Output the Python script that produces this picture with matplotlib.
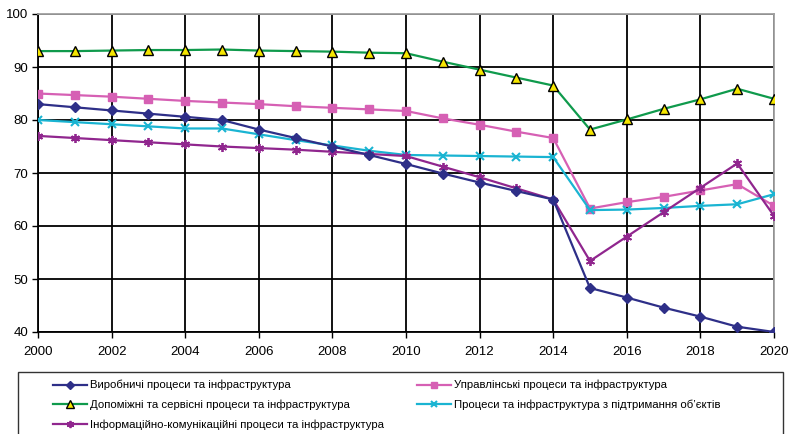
import matplotlib
matplotlib.use("Agg")
import matplotlib.pyplot as plt
from matplotlib.patches import Rectangle

plt.rcParams['font.family'] = ['Liberation Sans', 'DejaVu Sans']

years = list(range(2000, 2021))

vyrobnychi = [83.0, 82.4, 81.8, 81.2, 80.6, 80.0, 78.2, 76.6, 75.0, 73.4, 71.7,
              69.9, 68.2, 66.6, 65.0, 48.3, 46.5, 44.6, 42.9, 41.0, 40.0]
upravlinski = [85.0, 84.7, 84.4, 84.0, 83.6, 83.3, 83.0, 82.6, 82.3, 82.0, 81.7,
               80.3, 79.1, 77.8, 76.6, 63.3, 64.5, 65.5, 66.7, 67.9, 63.8]
dopomizhni = [93.0, 93.0, 93.1, 93.2, 93.2, 93.3, 93.1, 93.0, 92.9, 92.7, 92.6,
              91.0, 89.5, 88.0, 86.5, 78.2, 80.1, 82.1, 83.9, 85.9, 84.0]
pidtrymannia = [80.0, 79.6, 79.2, 78.8, 78.4, 78.4, 77.3, 76.2, 75.2, 74.2, 73.4,
                73.3, 73.2, 73.1, 73.0, 63.0, 63.1, 63.4, 63.8, 64.1, 66.0]
informatsiini = [77.0, 76.6, 76.2, 75.8, 75.4, 75.0, 74.7, 74.4, 74.0, 73.6, 73.2,
                 71.2, 69.2, 67.1, 65.0, 53.4, 58.0, 62.6, 67.2, 71.8, 61.9]

labels = [
    "Виробничі процеси та інфраструктура",
    "Управлінські процеси та інфраструктура",
    "Допоміжні та сервісні процеси та інфраструктура",
    "Процеси та інфраструктура з підтримання об’єктів",
    "Інформаційно-комунікаційні процеси та інфраструктура",
]

x_ticks = list(range(2000, 2021, 2))
y_ticks = list(range(40, 101, 10))

W, H = 791, 434
fig = plt.figure(figsize=(W / 100, H / 100), dpi=100)
ax = fig.add_axes([38 / W, 1 - 332 / H, (774 - 38) / W, (332 - 14) / H])

lw = 1.6
h1, = ax.plot(years, vyrobnychi, color='#2e2f88', lw=lw, marker='D', ms=4.8,
              mfc='#2e2f88', mec='#2e2f88', zorder=4)
h2, = ax.plot(years, upravlinski, color='#d660b4', lw=lw, marker='s', ms=6,
              mfc='#d660b4', mec='#d660b4', zorder=3)
h3, = ax.plot(years, dopomizhni, color='#0f9a4c', lw=lw, marker='^', ms=6.5,
              mfc='#f5e600', mec='black', mew=1.0, zorder=3)
h4, = ax.plot(years, pidtrymannia, color='#1ab4d2', lw=lw, marker='x', ms=5.5,
              mew=1.5, zorder=3)
h5, = ax.plot(years, informatsiini, color='#90268e', lw=lw, marker=(6, 2, 0), ms=6.5,
              mew=1.3, zorder=3)

ax.set_xlim(2000, 2020)
ax.set_ylim(40, 100)
ax.set_xticks(x_ticks)
ax.set_yticks(y_ticks)
ax.grid(True, color='black', lw=1.3, zorder=1)
ax.set_axisbelow(True)
ax.tick_params(axis='both', labelsize=9.5, colors='black', length=4, width=1.0,
               direction='out', pad=3)
ax.tick_params(axis='x', pad=6)
for side in ('left', 'bottom'):
    ax.spines[side].set_color('black')
    ax.spines[side].set_linewidth(1.3)
for side in ('top', 'right'):
    ax.spines[side].set_color('#a0a0a0')
    ax.spines[side].set_linewidth(1.3)

# legend frame, open at the bottom edge of the figure
fig.patches.append(Rectangle((18 / W, 1 - 445 / H), (783 - 18) / W, (445 - 372) / H,
                             transform=fig.transFigure, fill=False, ec='#333333', lw=1.0))

leg_kw = dict(frameon=False, loc='upper left', borderpad=0.0, borderaxespad=0.0,
              prop={'size': 8.2}, handlelength=3.0, handletextpad=0.25,
              labelspacing=0.8, markerscale=0.8)
leg1 = fig.legend([h1, h3, h5], [labels[0], labels[2], labels[4]],
                  bbox_to_anchor=(53 / W, 1 - 380 / H), **leg_kw)
leg2 = fig.legend([h2, h4], [labels[1], labels[3]],
                  bbox_to_anchor=(417 / W, 1 - 380 / H), **leg_kw)

fig.savefig("out.png", dpi=100, facecolor='white')
